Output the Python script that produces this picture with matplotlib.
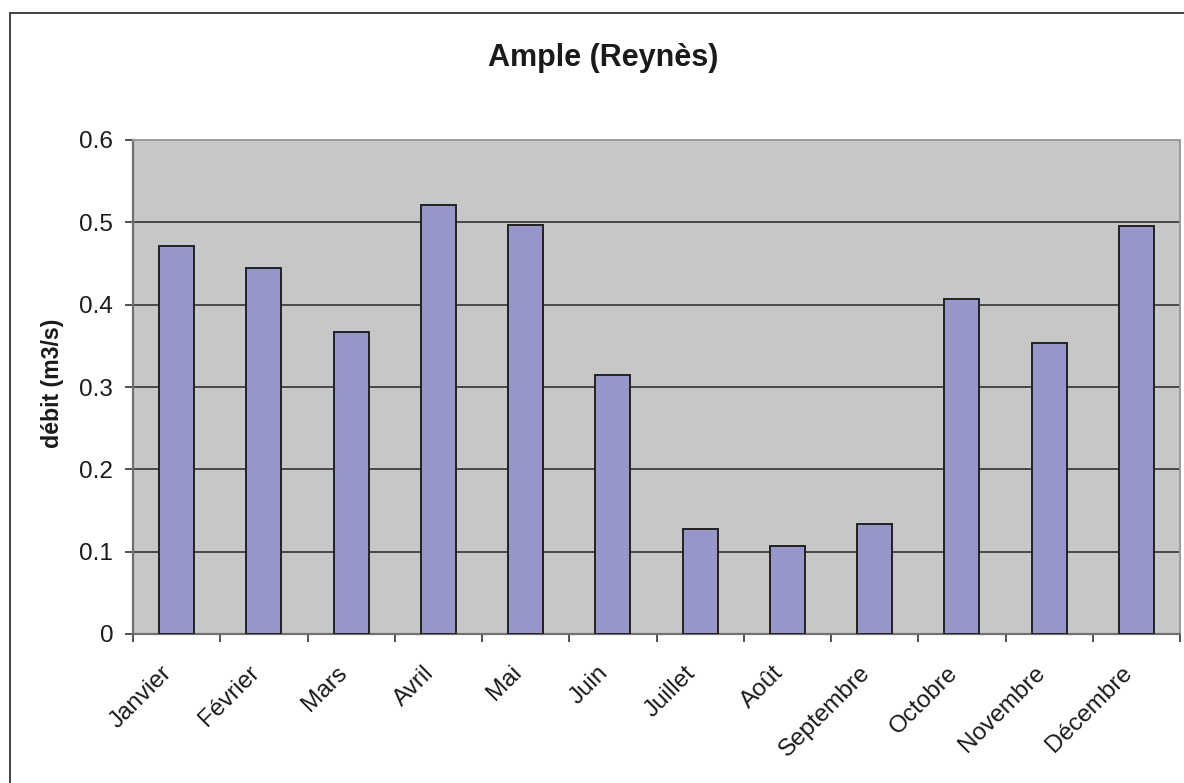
import matplotlib
matplotlib.use("Agg")
import matplotlib.pyplot as plt
import numpy as np
from matplotlib.patches import Rectangle

months = ["Janvier", "Février", "Mars", "Avril", "Mai", "Juin", "Juillet",
          "Août", "Septembre", "Octobre", "Novembre", "Décembre"]
debit = [0.471, 0.445, 0.367, 0.521, 0.497, 0.315, 0.128, 0.107, 0.133,
         0.407, 0.353, 0.495]
yticks = [0, 0.1, 0.2, 0.3, 0.4, 0.5, 0.6]
ytick_labels = ["0", "0.1", "0.2", "0.3", "0.4", "0.5", "0.6"]

plt.rcParams['font.family'] = ['Liberation Sans', 'DejaVu Sans']

W, H = 1184, 783
fig = plt.figure(figsize=(W / 100, H / 100), dpi=100)
fig.patch.set_facecolor("white")

# outer chart frame (partially cropped on right/bottom)
fig.patches.append(Rectangle((10 / W, -0.2), 1.5, 1 - 13 / H + 0.2,
                             transform=fig.transFigure, fill=False,
                             edgecolor="#333333", linewidth=1.3, zorder=0))

ax = fig.add_axes([133 / W, 1 - 634 / H, (1180 - 133) / W, (634 - 140) / H])
ax.set_facecolor("#C6C7C9")

x = np.arange(len(months))
ax.bar(x, debit, width=0.4, color="#9696C8", edgecolor="#222222",
       linewidth=1.4, zorder=3)

ax.set_xlim(-0.5, len(months) - 0.5)
ax.set_ylim(0, 0.6)
ax.set_yticks(yticks)
ax.set_yticklabels(ytick_labels, fontsize=17.5, color="#1a1a1a")
for yv in yticks[1:-1]:
    ax.axhline(yv, color="#333333", linewidth=1.2, zorder=1)

ax.set_xticks(x)
ax.set_xticklabels(months, rotation=45, ha="right", fontsize=17.5,
                   color="#1a1a1a")
ax.set_xticks(np.arange(-0.5, len(months), 1.0), minor=True)
ax.tick_params(axis="x", which="major", length=0, pad=20)
ax.tick_params(axis="x", which="minor", length=5.6, width=1.2, color="#333333")
ax.tick_params(axis="y", length=5.8, width=1.2, color="#333333", pad=8.5)

for s in ["left", "bottom"]:
    ax.spines[s].set_color("#707070")
    ax.spines[s].set_linewidth(1.6)
for s in ["top", "right"]:
    ax.spines[s].set_color("#9A9A9A")
    ax.spines[s].set_linewidth(1.4)

fig.text(603 / W, 1 - 58 / H, "Ample (Reynès)", fontsize=22, fontweight="bold",
         ha="center", va="center", color="#1a1a1a")
fig.text(52 / W, 1 - 383 / H, "débit (m3/s)", fontsize=16.7, fontweight="bold",
         rotation=90, ha="center", va="center", color="#1a1a1a")

fig.savefig("out.png", dpi=100)
